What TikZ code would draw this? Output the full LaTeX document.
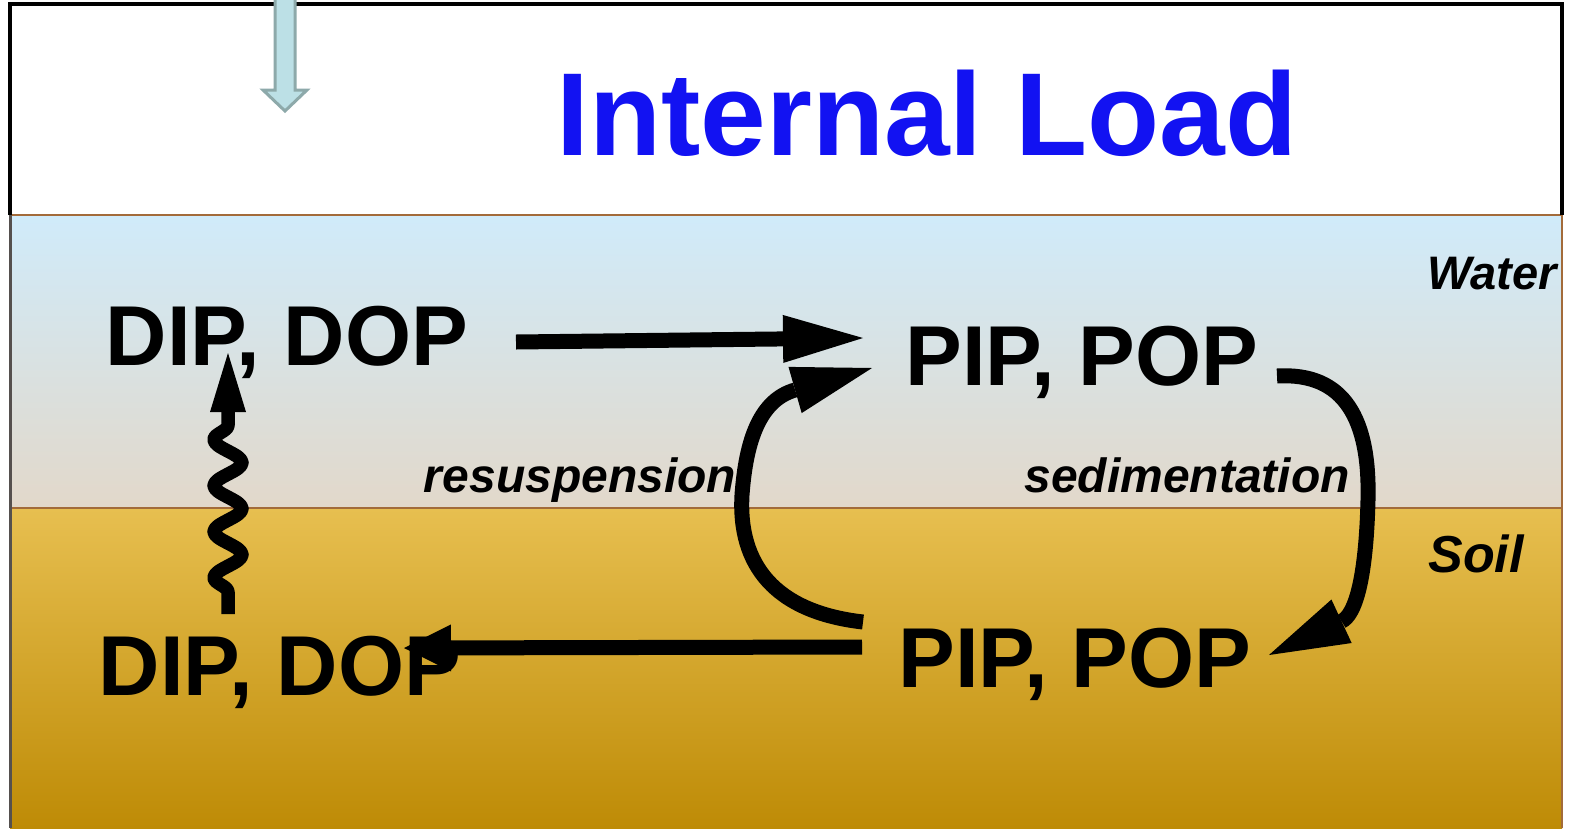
\documentclass[tikz,border=0pt]{standalone}
\usepackage{fontspec}
\setmainfont{Liberation Sans}
\usetikzlibrary{arrows.meta,decorations.pathmorphing}
\definecolor{watertop}{RGB}{208,235,250}
\definecolor{waterbot}{RGB}{226,216,202}
\definecolor{soiltop}{RGB}{231,191,80}
\definecolor{soilbot}{RGB}{190,139,6}
\definecolor{edgebrown}{RGB}{163,107,58}
\definecolor{edgegray}{RGB}{85,80,78}
\definecolor{intblue}{RGB}{18,18,242}
\definecolor{arrfill}{RGB}{188,224,230}
\definecolor{arredge}{RGB}{141,169,170}
\begin{document}
\begin{tikzpicture}[x=1pt,y=-1pt,
  big/.style={font=\bfseries\fontsize{85}{85}\selectfont, inner sep=0pt, anchor=base},
  itl/.style={font=\bfseries\itshape\fontsize{48}{48}\selectfont, inner sep=0pt, anchor=base},
  flow/.style={line width=15pt, -{Triangle[length=80pt,width=48pt,line width=0pt]}},
  flowsmall/.style={line width=15pt, -{Triangle[length=47pt,width=47pt,line width=0pt]}},
  wave/.style={line width=13.5pt, line join=round, decorate,
    decoration={snake, amplitude=14pt, segment length=46pt, pre length=22pt, post length=66pt},
    -{Triangle[length=59pt,width=36pt,line width=0pt]}}]
\useasboundingbox (0,0) rectangle (1571,828);
% backgrounds
\fill[white] (10,4) rectangle (1562,215);
\shade[top color=watertop, bottom color=waterbot] (10,215) rectangle (1562,508);
\shade[top color=soiltop, bottom color=soilbot] (10,508) rectangle (1562,828);
\draw[edgebrown, line width=2.5pt] (10,215) -- (1562,215) -- (1562,828);
\draw[edgebrown, line width=2pt] (10,508) -- (1562,508);
\draw[edgegray, line width=3pt] (10,215) -- (10,828);
\draw[black, line width=4pt] (10,215) -- (10,4) -- (1562,4) -- (1562,215);
% input arrow at top
\filldraw[fill=arrfill, draw=arredge, line width=3pt, line join=miter]
  (275,-5) -- (295,-5) -- (295,90) -- (307,90) -- (285,111) -- (263,90) -- (275,90) -- cycle;
% texts
\node[font=\bfseries\fontsize{118}{118}\selectfont, text=intblue, inner sep=0pt, anchor=base] (title) at (927,155) {Internal Load};
\node[big] (dipw) at (287,365) {DIP, DOP};
\node[big] (pipw) at (1082,385) {PIP, POP};
\node[big] (dips) at (280,695) {DIP, DOP};
\node[big] (pips) at (1075,687) {PIP, POP};
\node[itl] (lres) at (580,492) {resuspension};
\node[itl] (lsed) at (1187,492) {sedimentation};
\node[font=\bfseries\itshape\fontsize{47}{47}\selectfont, inner sep=0pt, anchor=base] (lwater) at (1492,289) {Water};
\node[font=\bfseries\itshape\fontsize{52}{52}\selectfont, inner sep=0pt, anchor=base] (lsoil) at (1476,572) {Soil};
% connector end points
\coordinate (a1s) at (516,342);
\coordinate (a1e) at (863,338);
\coordinate (a2s) at (863,622);
\coordinate (a2m) at (742,495);
\coordinate (a2e) at (872,368);
\coordinate (a3s) at (1277,376);
\coordinate (a3m) at (1368,500);
\coordinate (a3e) at (1269,655);
\coordinate (a4s) at (862,647);
\coordinate (a4e) at (404,648);
\coordinate (w1) at (228,614);
\coordinate (w2) at (228,353);
% connectors
\draw[flow] (a1s) -- (a1e);
\draw[flow] (a2s) .. controls (775,612) and (738,565) .. (a2m) .. controls (746,440) and (760,400) .. (a2e);
\draw[flow] (a3s) .. controls (1345,372) and (1370,420) .. (a3m) .. controls (1366,580) and (1355,615) .. (a3e);
\draw[flowsmall] (a4s) -- (a4e);
\draw[wave] (w1) -- (w2);
\end{tikzpicture}
\end{document}
